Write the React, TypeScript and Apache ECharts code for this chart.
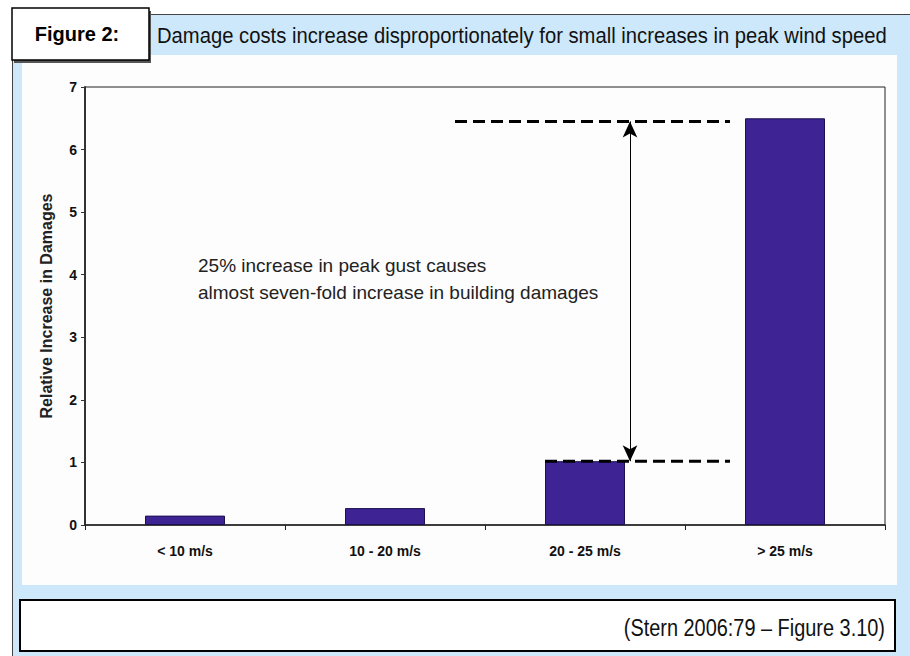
import React, { useEffect, useRef } from "react";
import * as echarts from "echarts";

const categories = ["< 10 m/s", "10 - 20 m/s", "20 - 25 m/s", "> 25 m/s"];
const damageValues = [0.15, 0.27, 1.02, 6.5];
const yMin = 0;
const yMax = 7;
const yInterval = 1;
// annotation reference levels (data units)
const upperLevel = 6.45;
const lowerLevel = 1.02;
// annotation spans on a hidden 0..4 category-position axis
const upperSpan = [1.85, 3.225];
const lowerSpan = [2.3, 3.225];
const arrowX = 2.725;

const titleText = "Damage costs increase disproportionately for small increases in peak wind speed";
const figureLabel = "Figure 2:";
const noteLines = ["25% increase in peak gust causes", "almost seven-fold increase in building damages"];
const sourceText = "(Stern 2006:79 \u2013 Figure 3.10)";
const yAxisName = "Relative Increase in Damages";

const SANS = "Arial, 'Liberation Sans', Helvetica, sans-serif";

export default function App() {
  const ref = useRef<HTMLDivElement>(null);
  useEffect(() => {
    if (!ref.current) return;
    const chart = echarts.init(ref.current, null, { renderer: "svg" });
    const option: any = {
      animation: false,
      backgroundColor: "#ffffff",
      graphic: [
        { type: "rect", z: -10, shape: { x: 12.5, y: 14.5, width: 920, height: 660 }, style: { fill: "#cde8fb", stroke: "#444", lineWidth: 1 } },
        { type: "rect", z: -9, shape: { x: 22, y: 55, width: 875, height: 530 }, style: { fill: "#fdfdfd" } },
        { type: "rect", z: -8, shape: { x: 14, y: 11, width: 137, height: 52 }, style: { fill: "#555" } },
        { type: "rect", z: -7, shape: { x: 12, y: 8, width: 137, height: 52 }, style: { fill: "#ffffff", stroke: "#000", lineWidth: 1.5 } },
        { type: "text", z: 50, x: 77, y: 34, style: { text: figureLabel, font: "bold 20px " + SANS, fill: "#000", textAlign: "center", textVerticalAlign: "middle" } },
        { type: "text", z: 50, x: 157, y: 35, scaleX: 0.92, style: { text: titleText, font: "22px " + SANS, fill: "#111", textAlign: "left", textVerticalAlign: "middle" } },
        { type: "rect", z: -7, shape: { x: 20, y: 600, width: 875, height: 51 }, style: { fill: "#ffffff", stroke: "#000", lineWidth: 2 } },
        { type: "text", z: 50, x: 885, y: 628, scaleX: 0.83, style: { text: sourceText, font: "24px " + SANS, fill: "#111", textAlign: "right", textVerticalAlign: "middle" } },
        { type: "text", z: 50, x: 198, y: 265, style: { text: noteLines[0], font: "19px " + SANS, fill: "#222", textAlign: "left", textVerticalAlign: "middle" } },
        { type: "text", z: 50, x: 198, y: 292, style: { text: noteLines[1], font: "19px " + SANS, fill: "#222", textAlign: "left", textVerticalAlign: "middle" } },
      ],
      grid: { left: 85, right: 25, top: 87, bottom: 131, show: true, borderColor: "#222", borderWidth: 1, backgroundColor: "transparent" },
      xAxis: [
        {
          type: "category",
          data: categories,
          axisLine: { lineStyle: { color: "#222", width: 1.5 } },
          axisTick: { show: true, length: 5, lineStyle: { color: "#222" } },
          axisLabel: { margin: 19, fontSize: 14, fontWeight: "bold", color: "#111", fontFamily: SANS },
        },
        { type: "value", min: 0, max: 4, show: false },
      ],
      yAxis: {
        type: "value",
        min: yMin,
        max: yMax,
        interval: yInterval,
        splitLine: { show: false },
        axisLine: { show: true, lineStyle: { color: "#333", width: 2 } },
        axisTick: { show: true, length: 4, lineStyle: { color: "#333" } },
        axisLabel: { margin: 8, fontSize: 14, fontWeight: "bold", color: "#111", fontFamily: SANS },
        name: yAxisName,
        nameLocation: "middle",
        nameGap: 31,
        nameTextStyle: { fontSize: 16, fontWeight: "bold", color: "#222", fontFamily: SANS },
      },
      series: [
        {
          type: "bar",
          data: damageValues,
          barWidth: "40%",
          itemStyle: { color: "#3d2393", borderColor: "#1c1250", borderWidth: 1 },
          silent: true,
        },
        {
          type: "line",
          xAxisIndex: 1,
          data: [[upperSpan[0], upperLevel], [upperSpan[1], upperLevel]],
          symbol: "none",
          lineStyle: { color: "#000", width: 3, type: [12, 6] },
          silent: true,
          z: 5,
          markLine: {
            silent: true,
            symbol: ["arrow", "arrow"],
            symbolSize: [11, 16],
            label: { show: false },
            lineStyle: { color: "#000", width: 1, type: "solid" },
            data: [[{ coord: [arrowX, upperLevel] }, { coord: [arrowX, lowerLevel] }]],
          },
        },
        {
          type: "line",
          xAxisIndex: 1,
          data: [[lowerSpan[0], lowerLevel], [lowerSpan[1], lowerLevel]],
          symbol: "none",
          lineStyle: { color: "#000", width: 3, type: [12, 6] },
          silent: true,
          z: 5,
        },
      ],
    };
    chart.setOption(option);
    return () => chart.dispose();
  }, []);
  return <div ref={ref} style={{ position: "fixed", left: 0, top: 0, width: 910, height: 656 }} />;
}
